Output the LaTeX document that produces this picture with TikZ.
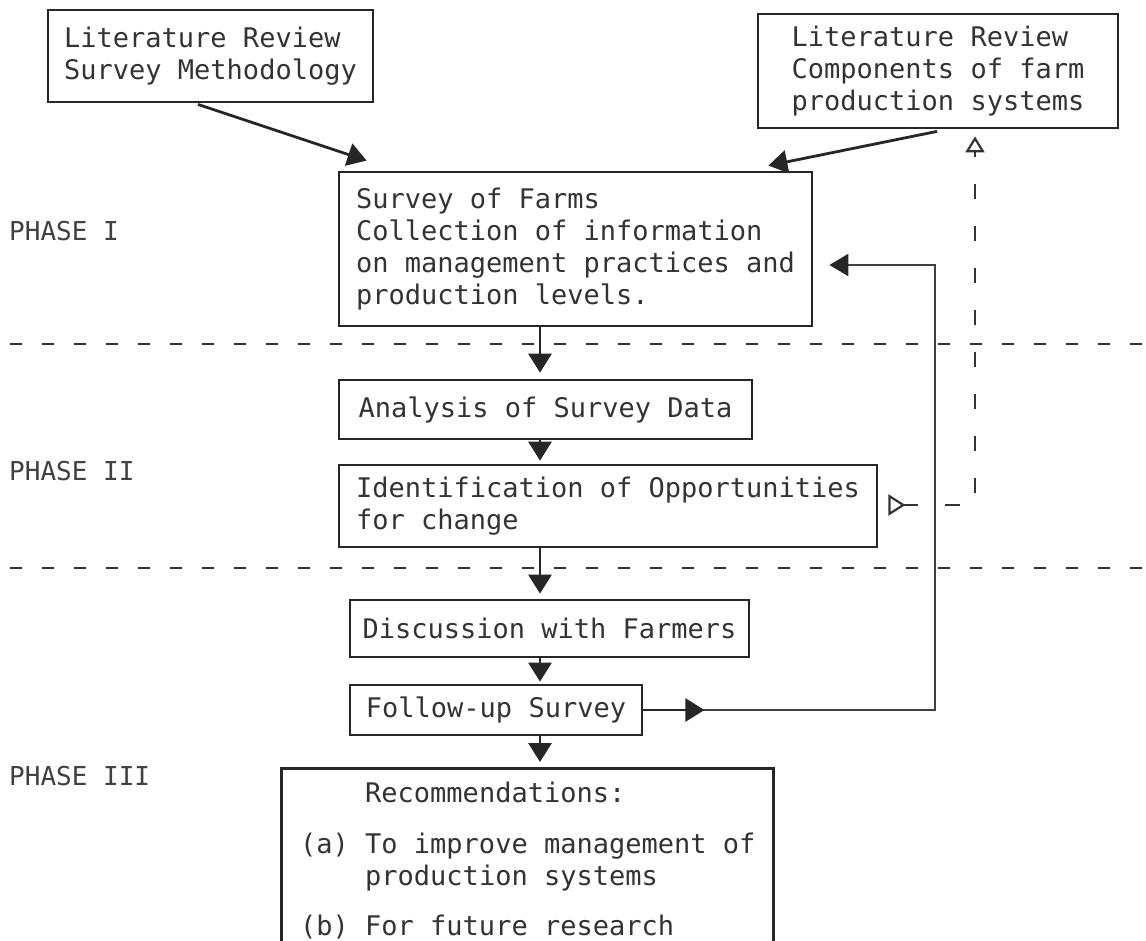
\documentclass[tikz,border=0pt]{standalone}
\usepackage{fontspec}
\setmonofont{DejaVu Sans Mono}
\usetikzlibrary{arrows.meta,calc}

\newcommand\flowfont{\ttfamily\fontsize{27}{32}\selectfont}
\newcommand\phasefont{\ttfamily\fontsize{26}{32}\selectfont}

\begin{document}
\begin{tikzpicture}[x=1pt,y=-1pt,
  box/.style={draw=black!85, line width=2.8pt, rectangle, inner sep=0pt,
    font=\flowfont, text=black!80, align=left},
  txt/.style={font=\flowfont, text=black!80, align=left, inner sep=0pt},
  phase/.style={font=\phasefont, text=black!75, inner sep=0pt, anchor=base west},
  arr/.style={line width=2.8pt, draw=black!85, -{Triangle[length=19pt,width=23pt]}},
  fbline/.style={line width=2.4pt, draw=black!75},
  dashconn/.style={line width=2.4pt, draw=black!80, dash pattern=on 15pt off 27pt},
  phaseline/.style={line width=2.8pt, draw=black!80, dash pattern=on 12pt off 20pt},
]
\useasboundingbox (0,0) rectangle (1146,940);
\clip (0,0) rectangle (1146,940);

% phase separators
\draw[phaseline] (10,344) -- (1146,344);
\draw[phaseline] (10,568) -- (1146,568);

% phase labels
\node[phase] (p1) at (9,240) {PHASE I};
\node[phase] (p2) at (9,480) {PHASE II};
\node[phase] (p3) at (9,785) {PHASE III};

% boxes
\node[box, minimum width=325pt, minimum height=92pt] (lrsm) at (210.5,56)
  {Literature Review\\Survey Methodology};
\node[box, minimum width=360pt, minimum height=114pt] (lrcp) at (938,71)
  {Literature Review\\Components of farm\\production systems};
\node[box, minimum width=473pt, minimum height=154pt] (survey) at (575.5,249)
  {Survey of Farms\\Collection of information\\on management practices and\\production levels.};
\node[box, minimum width=413pt, minimum height=59pt] (analysis) at (545.5,409.5)
  {Analysis of Survey Data};
\node[box, minimum width=538pt, minimum height=82pt] (ident) at (608,506)
  {Identification of Opportunities\\for change\phantom{ of Opportunities}};
\node[box, minimum width=399pt, minimum height=57pt] (discuss) at (549.5,628.5)
  {Discussion with Farmers};
\node[box, minimum width=292pt, minimum height=50pt] (follow) at (496,710)
  {Follow-up Survey};
\node[box, anchor=north west, minimum width=492pt, minimum height=230pt] (recom) at (280,767) {};
\node[txt, anchor=north west] (rectext) at ($(recom.north west)+(20,15)$)
  {\phantom{(a)}\ Recommendations:\\[19pt]
   (a) To improve management of\\
   \phantom{(a)}\ production systems\\[18pt]
   (b) For future research};

% main flow
\coordinate (spine) at (540,0);
\draw[arr] ($(lrsm.south)+(-12.5,1)$) -- ($(survey.north west)+(29,-10)$);
\draw[arr] ($(lrcp.south)+(-1,2)$) -- ($(survey.north east)+(-45,-5)$);
\draw[arr, shorten >=6pt] (survey.south -| spine) -- (analysis.north -| spine);
\draw[arr, shorten >=3pt] (analysis.south -| spine) -- (ident.north -| spine);
\draw[arr, shorten >=5pt] (ident.south -| spine) -- (discuss.north -| spine);
\draw[arr, shorten >=2pt] (discuss.south -| spine) -- (follow.north -| spine);
\draw[arr, shorten >=5pt] (follow.south -| spine) -- (recom.north -| spine);

% feedback from the follow-up survey to the survey of farms
\coordinate (fbk) at (935,0);
\draw[fbline, -{Triangle[length=19pt,width=22pt,color=black!85]}]
  (follow.east) -- (follow.east -| fbk) |- ($(survey.east)+(16,16)$);
\draw[arr] (follow.east) -- ++(61,0);

% dashed link from the opportunities back to the literature
\coordinate (dbk) at (975,0);
\draw[dashconn, {Triangle[open,reversed,length=17pt,width=21pt,line width=2.2pt]}-{Triangle[open,length=16pt,width=19pt,line width=2.2pt]}, shorten >=7pt]
  ($(ident.east)+(10,-1)$) -| (lrcp.south -| dbk);
\end{tikzpicture}
\end{document}
